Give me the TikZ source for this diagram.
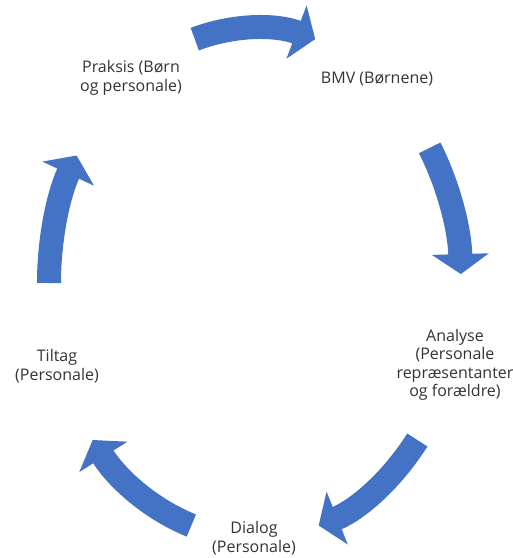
\documentclass[tikz,border=0pt]{standalone}
\usepackage{fontspec}
\setmainfont{Open Sans}
\usetikzlibrary{arrows.meta}
\definecolor{cycblue}{RGB}{68,114,196}
\tikzset{
  steptext/.style={align=center, inner sep=0pt, text=black!80, font=\fontsize{16}{18.5}\selectfont},
  cycarrow/.style={draw=cycblue, line width=24pt, -{Triangle[width=56pt,length=20pt]}}
}
\def\cyclearrow(#1,#2,#3){
  \coordinate (#1) at ({255+206*cos(#2)},{275+255*sin(#2)});
  \draw[cycarrow] (#1) arc[start angle=#2, end angle=#3, x radius=206pt, y radius=255pt];
}

\begin{document}
\begin{tikzpicture}[x=1pt,y=1pt]
\useasboundingbox (0,0) rectangle (513,558);
\node[steptext] (praksis) at (131,480) {Praksis (Børn\\og personale)};
\node[steptext] (bmv) at (377,479) {BMV (Børnene)};
\node[steptext] (analyse) at (455,193) {Analyse\\(Personale\\repræsentanter\\og forældre)};
\node[steptext] (dialog) at (254,20) {Dialog\\(Personale)};
\node[steptext] (tiltag) at (57,192) {Tiltag\\(Personale)};
\cyclearrow(a1,107,73)
\cyclearrow(a2,32,2)
\cyclearrow(a3,-38,-72)
\cyclearrow(a4,-108,-142)
\cyclearrow(a5,180,150)
\end{tikzpicture}
\end{document}
